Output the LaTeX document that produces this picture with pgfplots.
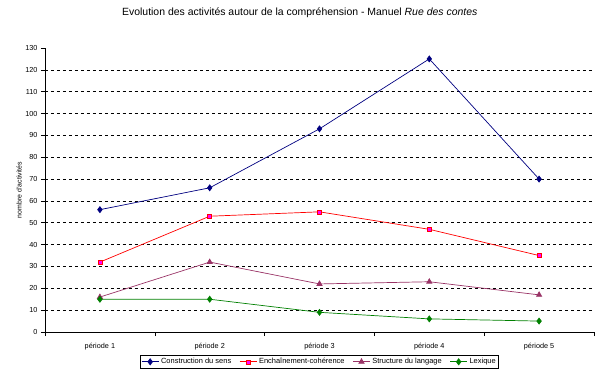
\documentclass[border=0pt]{standalone}
\usepackage{pgfplots}
\pgfplotsset{compat=1.18}
\usepackage{fontspec}
\setmainfont{Liberation Sans}
\definecolor{cnavy}{RGB}{0,0,128}
\definecolor{cred}{RGB}{255,0,0}
\definecolor{cmag}{RGB}{255,0,255}
\definecolor{cplum}{RGB}{153,51,102}
\definecolor{cgreen}{RGB}{0,128,0}
\begin{document}
\begin{tikzpicture}
\begin{axis}[
  scale only axis,
  width=549bp, height=284bp,
  xmin=-0.5, xmax=4.5,
  ymin=0, ymax=130,
  axis lines*=left,
  axis line style={black, line width=0.8pt},
  xtick={0,1,2,3,4},
  xticklabels={période 1,période 2,période 3,période 4,période 5},
  major x tick style={draw=none},
  minor xtick={-0.5,0.5,1.5,2.5,3.5,4.5},
  minor x tick style={black, line width=0.6pt},
  minor tick length=4bp,
  ytick={0,10,...,130},
  major tick length=4bp,
  tick align=outside,
  tick pos=left,
  y tick style={black, line width=0.6pt},
  extra y ticks={10,20,...,120},
  extra y tick labels={},
  extra y tick style={grid=major, major tick length=0pt},
  major grid style={black, dash pattern=on 3pt off 3pt, line width=0.6pt},
  tick label style={font=\fontsize{7.3}{8}\selectfont},
  /pgf/number format/assume math mode=true,
  xticklabel style={yshift=-4bp},
  ylabel={nombre d'activités},
  ylabel style={font=\fontsize{7}{8}\selectfont, at={(axis description cs:-0.047,0.5)}, anchor=center},
  title={Evolution des activités autour de la compréhension - Manuel \textit{Rue des contes}},
  title style={font=\fontsize{10.5}{12}\selectfont, at={(axis description cs:0.464,1)}, anchor=center, yshift=29bp},
  legend columns=-1,
  legend style={at={(axis description cs:0.5,-0.105)}, anchor=center, draw=black, line width=0.6pt,
    font=\fontsize{7.5}{8}\selectfont, inner sep=1pt, row sep=0pt,
    /tikz/every even column/.append style={column sep=6bp}},
  legend image post style={line width=0.8pt},
]
\addplot[cnavy, line width=0.7pt, mark=diamond*, mark size=3pt, mark options={fill=cnavy, draw=cnavy}]
  coordinates {(0,56) (1,66) (2,93) (3,125) (4,70)};
\addlegendentry{Construction du sens}
\addplot[cred, line width=0.7pt, mark=square*, mark size=2pt, mark options={fill=cmag, draw=cred, line width=0.5pt}]
  coordinates {(0,32) (1,53) (2,55) (3,47) (4,35)};
\addlegendentry{Enchaînement-cohérence}
\addplot[cplum, line width=0.7pt, mark=triangle*, mark size=3pt, mark options={fill=cplum, draw=cplum}]
  coordinates {(0,16) (1,32) (2,22) (3,23) (4,17)};
\addlegendentry{Structure du langage}
\addplot[cgreen, line width=0.7pt, mark=diamond*, mark size=3pt, mark options={fill=cgreen, draw=cgreen}]
  coordinates {(0,15) (1,15) (2,9) (3,6) (4,5)};
\addlegendentry{Lexique}
\end{axis}
\path (current axis.south west) ++(-45bp,-43bp) rectangle ++(604bp,375bp);
\end{tikzpicture}
\end{document}
